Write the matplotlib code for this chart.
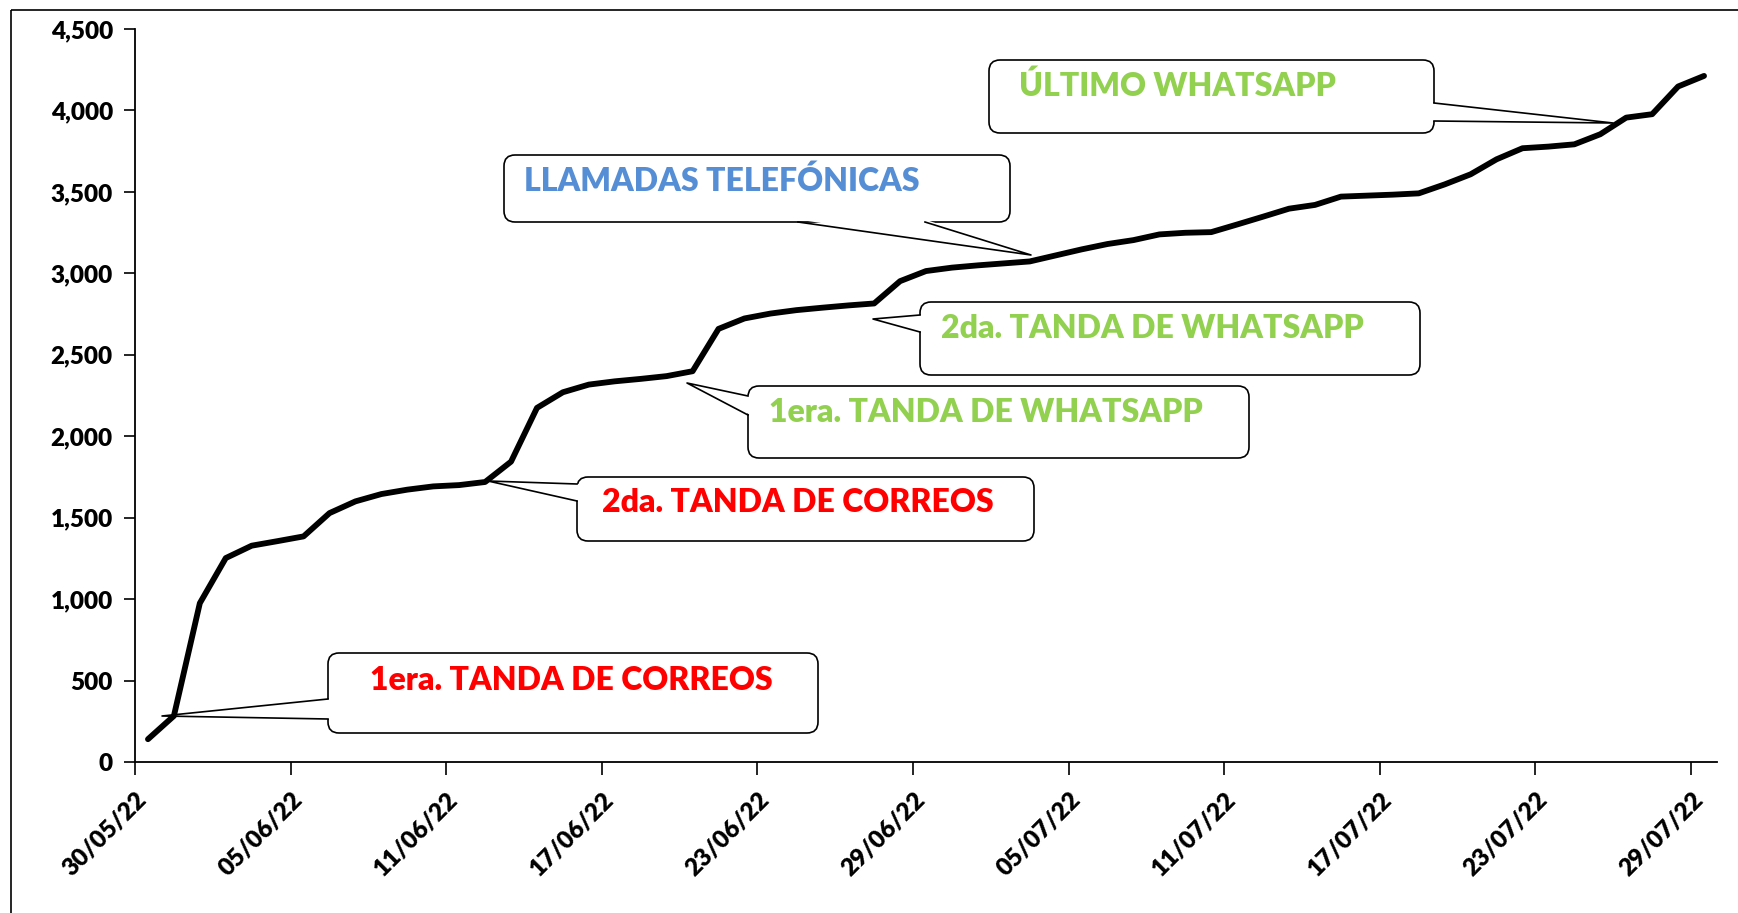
import numpy as np
import pandas as pd
import matplotlib
matplotlib.use('Agg')
import matplotlib.pyplot as plt
import matplotlib.dates as mdates
from matplotlib.patches import FancyBboxPatch, Polygon, Rectangle
from matplotlib.ticker import FuncFormatter

# cumulative answers per day, 30/05/22 .. 29/07/22
start = '2022-05-30'
values = [140, 283, 975, 1252, 1328, 1356, 1385, 1528, 1600, 1645, 1672, 1692, 1700, 1719, 1844,
          2174, 2270, 2317, 2337, 2352, 2369, 2399, 2659, 2723, 2753, 2774, 2789, 2803, 2815, 2952,
          3014, 3035, 3049, 3061, 3073, 3110, 3147, 3180, 3204, 3239, 3249, 3253, 3300, 3348, 3397,
          3420, 3471, 3477, 3483, 3491, 3546, 3608, 3700, 3768, 3778, 3792, 3854, 3956, 3977, 4147,
          4212]
yticks = [0, 500, 1000, 1500, 2000, 2500, 3000, 3500, 4000, 4500]

labels = ['1era. TANDA DE CORREOS', '2da. TANDA DE CORREOS', '1era. TANDA DE WHATSAPP',
          '2da. TANDA DE WHATSAPP', 'LLAMADAS TELEFÓNICAS', 'ÚLTIMO WHATSAPP']
label_colors = ['#FF0000', '#FF0000', '#92D050', '#92D050', '#558ED5', '#92D050']

W, H = 1738, 913
fig = plt.figure(figsize=(W / 100, H / 100), dpi=100)
ax = fig.add_axes([135 / W, 1 - 762 / H, (1717 - 135) / W, (762 - 29) / H])

dates = pd.date_range(start, periods=len(values), freq='D') + pd.Timedelta(hours=12)
ax.plot(dates, values, color='black', lw=4.2, solid_capstyle='round', solid_joinstyle='round')

ax.set_xlim(pd.Timestamp(start), pd.Timestamp(start) + pd.Timedelta(days=len(values)))
ax.set_ylim(0, 4500)
ax.set_yticks(yticks)
ax.yaxis.set_major_formatter(FuncFormatter(lambda v, p: f'{int(v):,}'))
ax.set_xticks(pd.date_range(start, periods=11, freq='6D'))
ax.xaxis.set_major_formatter(mdates.DateFormatter('%d/%m/%y'))

for s in ['top', 'right']:
    ax.spines[s].set_visible(False)
for s in ['left', 'bottom']:
    ax.spines[s].set_linewidth(1.3)
ax.tick_params(axis='y', length=8, width=1.2, pad=8, labelsize=17.5)
ax.tick_params(axis='x', length=9, width=1.2, pad=10, labelsize=17.5)
for t in ax.get_yticklabels():
    t.set_fontweight('heavy'); t.set_family('Lato')
for t in ax.get_xticklabels():
    t.set_fontweight('heavy'); t.set_family('Lato')
    t.set_rotation(45); t.set_ha('right'); t.set_rotation_mode('anchor')

# overlay in pixel coordinates for the callouts
ov = fig.add_axes([0, 0, 1, 1], zorder=5)
ov.set_xlim(0, W)
ov.set_ylim(H, 0)
ov.axis('off')
ov.patch.set_alpha(0)

ov.add_patch(Rectangle((11, 10), W + 50, H + 50, fill=False, lw=1.2, ec='black'))

# box (x0, y0, x1, y1), tip, base points, text origin
callouts = [
    ((328, 653, 818, 733), (162, 716), [(328, 699), (328, 719)], (370, 681)),
    ((577, 477, 1034, 541), (488, 481), [(577, 484), (577, 501)], (602, 503)),
    ((748, 386, 1249, 458), (687, 383), [(748, 396), (748, 415)], (769, 413)),
    ((920, 302, 1420, 375), (873, 319), [(920, 315), (920, 332)], (941, 329)),
    ((504, 155, 1010, 222), (1031, 255), [(798, 222), (925, 222)], (524, 181)),
    ((989, 60, 1434, 133), (1613, 123), [(1434, 103), (1434, 121)], (1019, 86)),
]

for (box, tip, base, txt), lab, col in zip(callouts, labels, label_colors):
    x0, y0, x1, y1 = box
    ov.add_patch(FancyBboxPatch((x0, y0), x1 - x0, y1 - y0,
                                boxstyle='round,pad=0,rounding_size=11',
                                fc='white', ec='black', lw=1.2, zorder=2))
    # push base points a bit inside the box so the fill hides the edge
    inner = []
    for bx, by in base:
        dx = 2.5 if bx == x0 else (-2.5 if bx == x1 else 0)
        dy = 2.5 if by == y0 else (-2.5 if by == y1 else 0)
        inner.append((bx + dx, by + dy))
    ov.add_patch(Polygon([inner[0], tip, inner[1]], closed=True, fc='white', ec='none', zorder=3))
    ov.plot([base[0][0], tip[0], base[1][0]], [base[0][1], tip[1], base[1][1]],
            color='black', lw=1.2, zorder=4)
    ov.text(txt[0], txt[1], lab, color=col, fontsize=23, fontweight='heavy',
            family='Lato', ha='left', va='center', zorder=5)

fig.savefig('out.png', dpi=100)
